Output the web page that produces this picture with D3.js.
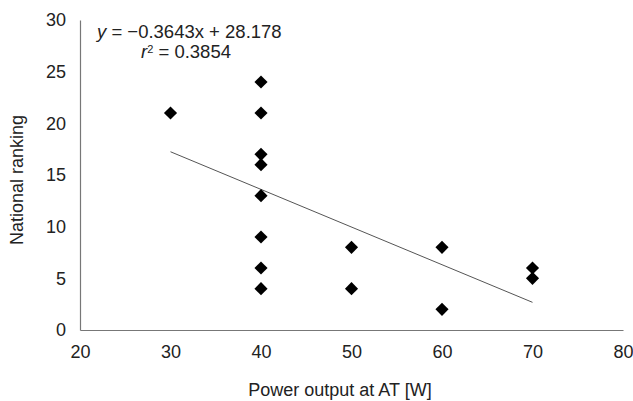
<!DOCTYPE html>
<html>
<head>
<meta charset="utf-8">
<script src="https://cdn.jsdelivr.net/npm/d3@7"></script>
<style>
  body { margin: 0; background: #fff; }
  text { font-family: "Liberation Sans", Arial, sans-serif; fill: #222; }
</style>
</head>
<body>
<div id="chart"></div>
<script>
var powerOutput = [30, 40, 40, 40, 40, 40, 40, 40, 40, 50, 50, 60, 60, 70, 70];
var ranking     = [21, 24, 21, 17, 16, 13, 9, 6, 4, 8, 4, 8, 2, 6, 5];
var xTicks = [20, 30, 40, 50, 60, 70, 80];
var yTicks = [0, 5, 10, 15, 20, 25, 30];
var slope = -0.3643, intercept = 28.178;
var trendRange = [30, 70];

var w = 633, h = 401;
var margin = {top: 20, right: 10, bottom: 71, left: 80};
var fontSize = "18px";

var svg = d3.select("#chart")
	.append("svg")
	.attr("width", w)
	.attr("height", h);

var xScale = d3.scaleLinear()
	.domain([20, 80])
	.range([margin.left, 623]);

var yScale = d3.scaleLinear()
	.domain([0, 30])
	.range([h - margin.bottom, margin.top]);

// axes, no tick marks
var xAxis = d3.axisBottom(xScale).tickValues(xTicks).tickSize(0).tickPadding(15);
var yAxis = d3.axisLeft(yScale).tickValues(yTicks).tickSize(0).tickPadding(14);

var gx = svg.append("g")
	.attr("transform", "translate(0," + yScale(0) + ")")
	.call(xAxis);

var gy = svg.append("g")
	.attr("transform", "translate(" + xScale(20) + ",0)")
	.call(yAxis);

[gx, gy].forEach(function(g) {
	g.select(".domain").attr("stroke", "#777").attr("stroke-width", 1.2);
	g.selectAll("text")
	 .style("font-size", fontSize)
	 .style("font-family", "'Liberation Sans', Arial, sans-serif")
	 .attr("fill", "#222");
});

// trendline
svg.append("line")
	.attr("x1", xScale(trendRange[0]))
	.attr("y1", yScale(slope * trendRange[0] + intercept))
	.attr("x2", xScale(trendRange[1]))
	.attr("y2", yScale(slope * trendRange[1] + intercept))
	.attr("stroke", "#555")
	.attr("stroke-width", 1);

// points
var diamond = d3.symbol().type(d3.symbolSquare).size(86);
svg.selectAll("path.pt")
	.data(powerOutput)
	.enter()
	.append("path")
	.attr("class", "pt")
	.attr("d", diamond)
	.attr("transform", (d, i) => "translate(" + xScale(d) + "," + yScale(ranking[i]) + ") rotate(45)")
	.attr("fill", "#000");

// equation
var eq = svg.append("text")
	.attr("x", 97)
	.attr("y", 38)
	.style("font-size", "18.5px");
eq.append("tspan").style("font-style", "italic").text("y");
eq.append("tspan").text(" = \u22120.3643x + 28.178");

var r2 = svg.append("text")
	.attr("x", 186)
	.attr("y", 58)
	.attr("text-anchor", "middle")
	.style("font-size", "18.5px");
r2.append("tspan").style("font-style", "italic").text("r");
r2.append("tspan").attr("dy", -5).style("font-size", "11px").text("2");
r2.append("tspan").attr("dy", 5).text(" = 0.3854");

// axis labels
svg.append("text")
	.attr("x", 340)
	.attr("y", 396)
	.attr("text-anchor", "middle")
	.style("font-size", fontSize)
	.text("Power output at AT [W]");

svg.append("text")
	.attr("transform", "rotate(-90)")
	.attr("x", -180)
	.attr("y", 23)
	.attr("text-anchor", "middle")
	.style("font-size", fontSize)
	.text("National ranking");
</script>
</body>
</html>
